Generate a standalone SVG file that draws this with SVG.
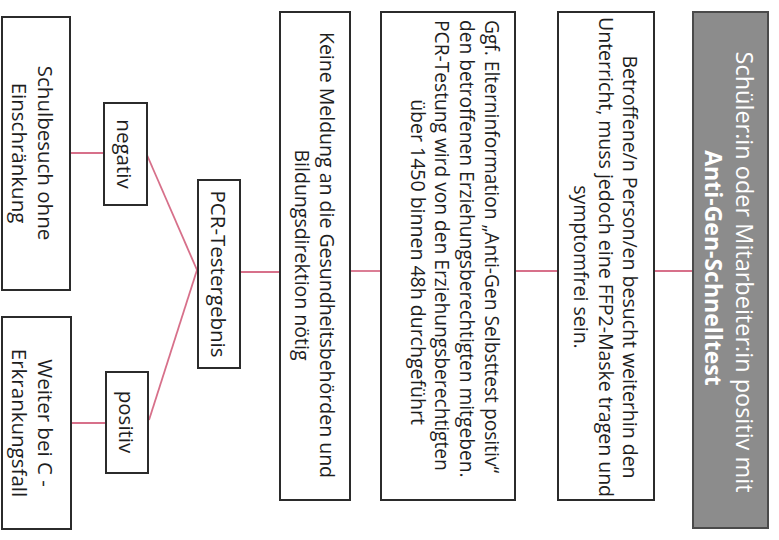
<svg xmlns="http://www.w3.org/2000/svg" width="779" height="540" viewBox="0 0 779 540">
<style>
.box{fill:#ffffff;stroke:#2b2b2b;stroke-width:2}
.gray{fill:#8c8c8c;stroke:#4a4a4a;stroke-width:2}
.t{font-family:"Open Sans","Noto Sans","DejaVu Sans",sans-serif;font-size:19.5px;fill:#1e1e1e;text-anchor:middle;dominant-baseline:central}
.s{text-anchor:start;font-size:19.2px}
.w{fill:#ffffff;font-size:23.5px}
.b{font-weight:bold;font-size:23px}
.l{font-size:20.5px}
.c{stroke:#d7708a;stroke-width:1.8;fill:none}
</style>
<rect width="779" height="540" fill="#ffffff"/>
<g id="connectors">
<line class="c" x1="654" y1="271" x2="693" y2="271"/>
<line class="c" x1="515" y1="271" x2="558" y2="271"/>
<line class="c" x1="350" y1="271" x2="381" y2="271"/>
<line class="c" x1="240" y1="272" x2="280" y2="272"/>
<line class="c" x1="197" y1="270" x2="147" y2="155"/>
<line class="c" x1="197" y1="270" x2="149" y2="420"/>
<line class="c" x1="70" y1="153" x2="104" y2="153"/>
<line class="c" x1="71" y1="423" x2="106" y2="423"/>
</g>
<g id="start">
<rect class="gray" x="693" y="12" width="75" height="516"/>
<text class="t w" transform="translate(745,272) rotate(90)">Schüler:in oder Mitarbeiter:in positiv mit</text>
<text class="t w b" transform="translate(714,268) rotate(90)">Anti-Gen-Schnelltest</text>
</g>
<g id="betroffene">
<rect class="box" x="558" y="12" width="96" height="488"/>
<text class="t" transform="translate(630,267) rotate(90)">Betroffene/n Person/en besucht weiterhin den</text>
<text class="t" transform="translate(606,257) rotate(90)">Unterricht, muss jedoch eine FFP2-Maske tragen und</text>
<text class="t" transform="translate(581,267) rotate(90)">symptomfrei sein.</text>
</g>
<g id="elterninfo">
<rect class="box" x="381" y="12" width="134" height="488"/>
<text class="t s" transform="translate(492,20) rotate(90)">Ggf. Elterninformation „Anti-Gen Selbsttest positiv“</text>
<text class="t s" transform="translate(467,20) rotate(90)">den betroffenen Erziehungsberechtigten mitgeben.</text>
<text class="t s" transform="translate(442,20) rotate(90)">PCR-Testung wird von den Erziehungsberechtigten</text>
<text class="t" transform="translate(418,262) rotate(90)">über 1450 binnen 48h durchgeführt</text>
</g>
<g id="keinemeldung">
<rect class="box" x="280" y="12" width="70" height="488"/>
<text class="t" transform="translate(327,255) rotate(90)">Keine Meldung an die Gesundheitsbehörden und</text>
<text class="t" transform="translate(302,255) rotate(90)">Bildungsdirektion nötig</text>
</g>
<g id="pcr">
<rect class="box" x="198" y="180" width="42" height="188"/>
<text class="t l" transform="translate(219,274) rotate(90)">PCR-Testergebnis</text>
</g>
<g id="negativ">
<rect class="box" x="104" y="103" width="43" height="102"/>
<text class="t l" transform="translate(125,154) rotate(90)">negativ</text>
</g>
<g id="positiv">
<rect class="box" x="106" y="372" width="42" height="101"/>
<text class="t l" transform="translate(127,422) rotate(90)">positiv</text>
</g>
<g id="schulbesuch">
<rect class="box" x="2" y="17" width="68" height="273"/>
<text class="t l" transform="translate(46,153) rotate(90)">Schulbesuch ohne</text>
<text class="t l" transform="translate(20,153) rotate(90)">Einschränkung</text>
</g>
<g id="weiter">
<rect class="box" x="2" y="317" width="69" height="212"/>
<text class="t l" transform="translate(46,423) rotate(90)">Weiter bei C -</text>
<text class="t l" transform="translate(20,423) rotate(90)">Erkrankungsfall</text>
</g>
</svg>
